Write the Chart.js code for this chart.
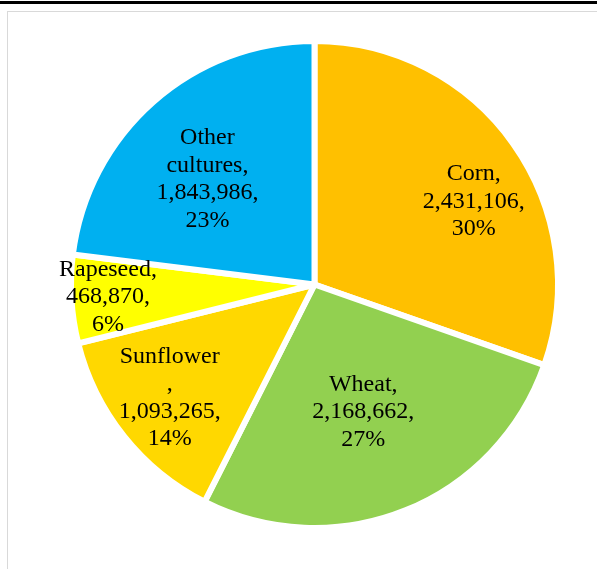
<!DOCTYPE html>
<html lang="en">
<head>
    <meta charset="UTF-8">
    <title>Crop areas</title>
    <script src="https://cdn.jsdelivr.net/npm/chart.js@4.4.1/dist/chart.umd.min.js"></script>
    <style>
        html, body { margin: 0; padding: 0; background: #fff; overflow: hidden; }
        #topRule { position: absolute; left: 0; top: 1px; width: 597px; height: 3px; background: #000; }
        #frame { position: absolute; left: 7px; top: 11px; width: 700px; height: 700px;
                 border-left: 1px solid #d9d9d9; border-top: 1px solid #d9d9d9; }
        #wrap { position: absolute; left: 0; top: 0; width: 597px; height: 569px; }
    </style>
</head>
<body>
    <div id="topRule"></div>
    <div id="frame"></div>
    <div id="wrap"><canvas id="pieChart" width="597" height="569"></canvas></div>

    <script>
        // data
        const categories = ['Corn', 'Wheat', 'Sunflower', 'Rapeseed', 'Other cultures'];
        const areas = [2431106, 2168662, 1093265, 468870, 1843986];
        const nameLines = [['Corn,'], ['Wheat,'], ['Sunflower', ','], ['Rapeseed,'], ['Other', 'cultures,']];
        const sliceColors = ['#FFC000', '#92D050', '#FFD800', '#FFFF00', '#00B0F0'];

        // where each label sits inside its slice (fraction of radius, angle nudge in degrees)
        const labelRadius = [0.75, 0.56, 0.76, 0.86, 0.63];
        const labelTurn = [7.3, 0.7, 1, 0.5, -3.5];

        const total = areas.reduce((a, b) => a + b, 0);
        const BORDER = 6;

        const sliceLabels = {
            id: 'sliceLabels',
            afterDatasetsDraw(chart) {
                const ctx = chart.ctx;
                const arcs = chart.getDatasetMeta(0).data;
                ctx.save();
                ctx.font = '24px "Liberation Serif", "Times New Roman", serif';
                ctx.fillStyle = '#000';
                ctx.textAlign = 'center';
                ctx.textBaseline = 'alphabetic';
                const lh = 27.5;
                arcs.forEach((arc, i) => {
                    const p = arc.getProps(['x', 'y', 'startAngle', 'endAngle', 'outerRadius'], true);
                    const r = p.outerRadius - BORDER / 2;
                    const mid = (p.startAngle + p.endAngle) / 2 + labelTurn[i] * Math.PI / 180;
                    const cx = p.x + Math.cos(mid) * r * labelRadius[i];
                    const cy = p.y + Math.sin(mid) * r * labelRadius[i];
                    const lines = nameLines[i].concat([
                        areas[i].toLocaleString('en-US') + ',',
                        Math.round(areas[i] / total * 100) + '%'
                    ]);
                    const n = lines.length;
                    lines.forEach((t, k) => {
                        ctx.fillText(t, cx, cy + (k - (n - 1) / 2) * lh + 8);
                    });
                });
                ctx.restore();
            }
        };

        new Chart(document.getElementById('pieChart'), {
            type: 'pie',
            data: {
                labels: categories,
                datasets: [{
                    data: areas,
                    backgroundColor: sliceColors,
                    borderColor: '#ffffff',
                    borderWidth: BORDER,
                    hoverOffset: 0
                }]
            },
            options: {
                responsive: false,
                animation: false,
                events: [],
                layout: { padding: { left: 68, right: 36, top: 38, bottom: 38 } },
                plugins: {
                    legend: { display: false },
                    tooltip: { enabled: false }
                }
            },
            plugins: [sliceLabels]
        });
    </script>
</body>
</html>
